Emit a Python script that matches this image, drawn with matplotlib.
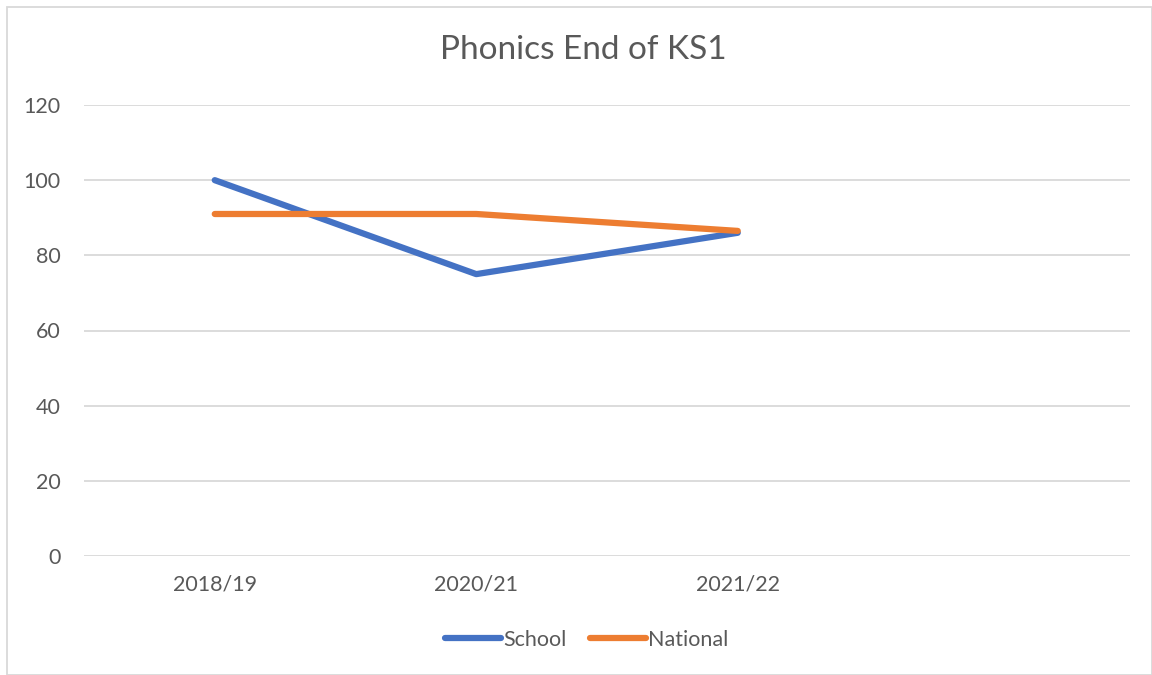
import matplotlib
matplotlib.use("Agg")
import matplotlib.pyplot as plt
from matplotlib.patches import Rectangle

categories = ["2018/19", "2020/21", "2021/22", ""]
school = [100, 75, 86]
national = [91, 91, 86.5]
yticks = [0, 20, 40, 60, 80, 100, 120]

plt.rcParams['font.family'] = ['Lato', 'DejaVu Sans']
txt = '#595959'

fig = plt.figure(figsize=(11.52, 6.75), dpi=100)
W, H = 1152, 675
ax = fig.add_axes([84 / W, 1 - 556 / H, (1130 - 84) / W, (556 - 105) / H])

x = list(range(len(categories)))
ax.plot(x[:len(school)], school, color='#4472C4', lw=4.5, solid_capstyle='round', solid_joinstyle='round', label='School', zorder=3)
ax.plot(x[:len(national)], national, color='#ED7D31', lw=4.5, solid_capstyle='round', solid_joinstyle='round', label='National', zorder=3)

ax.set_xlim(-0.5, len(categories) - 0.5)
ax.set_ylim(0, 120)
ax.set_yticks(yticks)
ax.set_yticklabels([str(v) for v in yticks], color=txt, fontsize=15.5)
ax.set_xticks(x)
ax.set_xticklabels(categories, color=txt, fontsize=15.5)
ax.tick_params(axis='both', length=0)
ax.tick_params(axis='y', pad=17)
ax.tick_params(axis='x', pad=13)
ax.grid(axis='y', color='#D9D9D9', lw=1.3)
ax.set_axisbelow(True)
for s in ax.spines.values():
    s.set_visible(False)

fig.text(583 / W, 1 - 50 / H, 'Phonics End of KS1', ha='center', va='center', fontsize=24, color=txt)

leg = fig.legend(loc='center', bbox_to_anchor=(587 / W, 1 - 640 / H), ncol=2, frameon=False,
                 fontsize=15.5, handlelength=2.6, handletextpad=0.1, columnspacing=1.1)
for t in leg.get_texts():
    t.set_color(txt)

fig.patches.append(Rectangle((7 / W, 0), (1152 - 7) / W, 1 - 7 / H, transform=fig.transFigure,
                             fill=False, edgecolor='#D9D9D9', lw=1.3))

fig.savefig('out.png', dpi=100, facecolor='white')
